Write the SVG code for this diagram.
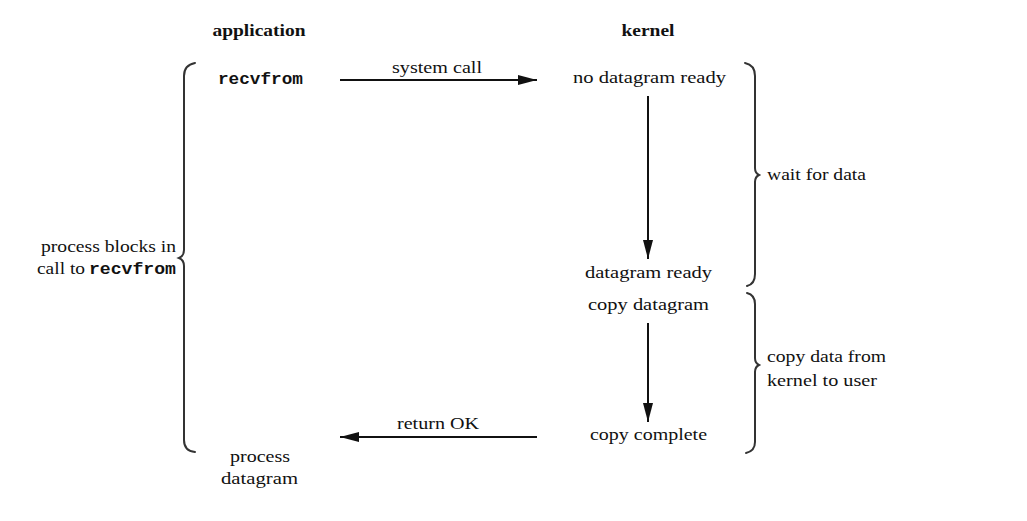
<svg xmlns="http://www.w3.org/2000/svg" width="1027" height="521" viewBox="0 0 1027 521">
<style>
  text { font-family: "Liberation Serif", "DejaVu Serif", serif; font-size: 17px; fill: #111; }
  .b { font-weight: bold; }
  .m { font-family: "Liberation Mono", "DejaVu Sans Mono", monospace; font-weight: bold; }
  .c { text-anchor: middle; }
  .brace { fill: none; stroke: #333; stroke-width: 2; stroke-linecap: round; }
  .line { stroke: #111; stroke-width: 2; fill: none; }
</style>
<defs>
  <marker id="ah" viewBox="0 0 19 10" refX="19" refY="5" markerWidth="19" markerHeight="10" markerUnits="userSpaceOnUse" orient="auto">
    <path d="M0,0 L19,5 L0,10 Z" fill="#111"/>
  </marker>
</defs>
<rect width="1027" height="521" fill="#fff"/>

<g id="headers">
  <text class="b c" x="259" y="36" textLength="93" lengthAdjust="spacingAndGlyphs">application</text>
  <text class="b c" x="648" y="36" textLength="53" lengthAdjust="spacingAndGlyphs">kernel</text>
</g>

<g id="app-recvfrom">
  <text class="m" x="218" y="84" textLength="85" lengthAdjust="spacingAndGlyphs">recvfrom</text>
</g>

<g id="k-no-datagram">
  <text x="573" y="83" textLength="153" lengthAdjust="spacingAndGlyphs">no datagram ready</text>
</g>

<g id="k-datagram-ready">
  <text x="585" y="278" textLength="127" lengthAdjust="spacingAndGlyphs">datagram ready</text>
</g>

<g id="k-copy-datagram">
  <text x="588" y="310" textLength="121" lengthAdjust="spacingAndGlyphs">copy datagram</text>
</g>

<g id="k-copy-complete">
  <text x="590" y="440" textLength="117" lengthAdjust="spacingAndGlyphs">copy complete</text>
</g>

<g id="app-process-datagram">
  <text x="230" y="462" textLength="60" lengthAdjust="spacingAndGlyphs">process</text>
  <text x="221" y="484" textLength="77" lengthAdjust="spacingAndGlyphs">datagram</text>
</g>

<g id="brace-block">
  <path class="brace" d="M195,63 Q184,65 184,76 L184,250 Q184,256 179,258 Q184,260 184,266 L184,440 Q184,451 195,452"/>
  <text x="41" y="252" textLength="135" lengthAdjust="spacingAndGlyphs">process blocks in</text>
  <text x="37" y="274" textLength="48" lengthAdjust="spacingAndGlyphs">call to</text>
  <text class="m" x="89" y="274" textLength="87" lengthAdjust="spacingAndGlyphs">recvfrom</text>
</g>

<g id="brace-wait">
  <path class="brace" d="M745,63 Q755,65 755,76 L755,168 Q755,173 759,175 Q755,177 755,182 L755,274 Q755,284 747,286"/>
  <text x="767" y="180" textLength="99" lengthAdjust="spacingAndGlyphs">wait for data</text>
</g>

<g id="brace-copy">
  <path class="brace" d="M747,293 Q755,295 755,304 L755,358 Q755,363 759,365 Q755,367 755,372 L755,442 Q755,451 746,453"/>
  <text x="767" y="362" textLength="119" lengthAdjust="spacingAndGlyphs">copy data from</text>
  <text x="767" y="386" textLength="110" lengthAdjust="spacingAndGlyphs">kernel to user</text>
</g>

<g id="connectors">
  <line class="line" x1="340" y1="80" x2="537" y2="80" marker-end="url(#ah)"/>
  <text x="392" y="73" textLength="90" lengthAdjust="spacingAndGlyphs">system call</text>
  <line class="line" x1="648" y1="96" x2="648" y2="259" marker-end="url(#ah)"/>
  <line class="line" x1="648" y1="323" x2="648" y2="422" marker-end="url(#ah)"/>
  <line class="line" x1="537" y1="437" x2="340" y2="437" marker-end="url(#ah)"/>
  <text x="397" y="429" textLength="82" lengthAdjust="spacingAndGlyphs">return OK</text>
</g>
</svg>
